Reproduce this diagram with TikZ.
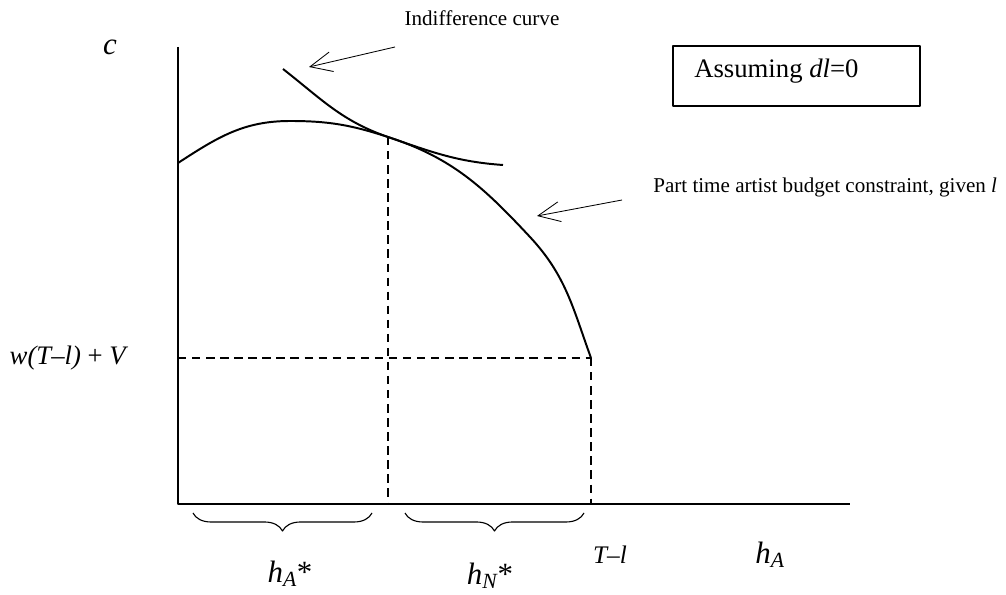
\documentclass[tikz,border=0pt]{standalone}
\usepackage{fontspec}
\setmainfont{Liberation Serif}
\usetikzlibrary{arrows.meta,decorations.pathreplacing}
\tikzset{
  econbase/.style={line cap=butt, line join=round},
  econaxis/.style={draw=black,line width=1.4pt},
  econcurve/.style={draw=black,line width=1.4pt},
  econguide/.style={draw=black,line width=1.2pt,dash pattern=on 6pt off 4pt},
  econpoint/.style={draw=black,line width=.6pt,-{Straight Barb[length=5.5mm,width=5mm]}},
  econbrace/.style={draw=black,line width=.8pt,decorate,decoration={brace,mirror,amplitude=4.5mm}},
  econbox/.style={draw=black,line width=1pt,minimum width=6.175cm,minimum height=1.5cm},
  econnote/.style={font=\fontsize{15}{18}\selectfont,inner sep=0pt},
  econlabel/.style={font=\fontsize{19}{22}\selectfont,inner sep=0pt},
  econbig/.style={font=\fontsize{22}{26}\selectfont\itshape,inner sep=0pt}
}

\begin{document}
\begin{tikzpicture}[econbase]
\useasboundingbox (-4.45,-2.275) rectangle (20.7,12.6);
\coordinate (origin) at (0,0);
\coordinate (ctop) at (0,11.425);
\coordinate (hend) at (16.8,0);
\coordinate (budstart) at (0,8.525);
\coordinate (budpeak) at (2.8,9.575);
\coordinate (tangent) at (5.25,9.175);
\coordinate (budbend) at (8.8,6.675);
\coordinate (budend) at (10.325,3.65);
\coordinate (indstart) at (2.625,10.875);
\coordinate (indend) at (8.125,8.475);
\coordinate (tangfoot) at (5.25,0);
\coordinate (endfoot) at (10.325,0);
\coordinate (endleft) at (0,3.65);
\draw[econaxis] (ctop)--(origin)--(hend);
\draw[econcurve] (budstart) to[out=33,in=180] (budpeak) to[out=0,in=162] (tangent)
  to[out=-18,in=133] (budbend) to[out=-47,in=110] (budend);
\draw[econcurve] (indstart) to[out=-38,in=161] (tangent) to[out=-19,in=176] (indend);
\draw[econguide] (tangent)--(tangfoot);
\draw[econguide] (budend)--(endfoot);
\draw[econguide] (endleft)--(budend);
\node[econnote] (indlbl) at (7.6,12.15) {Indifference curve};
\coordinate (indtail) at (5.425,11.425);
\coordinate (indtip) at (3.275,10.925);
\draw[econpoint] (indtail)--(indtip);
\node[econnote,anchor=west] (budlbl) at (11.875,7.925) {Part time artist budget constraint, given \textit{l}};
\coordinate (budtail) at (11.1,7.6);
\coordinate (budtip) at (8.975,7.2);
\draw[econpoint] (budtail)--(budtip);
\node[econbox] (dlbox) at (15.4625,10.7) {};
\node[econlabel,anchor=west] (dltext) at (12.9,10.825) {Assuming \textit{dl}=0};
\node[econbig] (clbl) at (-1.7,11.425) {c};
\node[econlabel] (wlbl) at (-2.725,3.65) {\textit{w(T--l)} + \textit{V}};
\coordinate (bracea1) at (0.375,-0.225);
\coordinate (bracea2) at (4.85,-0.225);
\coordinate (braceb1) at (5.675,-0.225);
\coordinate (braceb2) at (10.15,-0.225);
\draw[econbrace] (bracea1)--(bracea2);
\draw[econbrace] (braceb1)--(braceb2);
\node[econbig] (halbl) at (2.8,-1.75) {h\textsubscript{A}\textup{*}};
\node[econbig] (hnlbl) at (7.8,-1.8) {h\textsubscript{N}\textup{*}};
\node[econlabel,font=\fontsize{18}{22}\selectfont\itshape] (tllbl) at (10.8,-1.275) {T--l};
\node[econbig] (hlbl) at (14.8,-1.275) {h\textsubscript{A}};
\end{tikzpicture}
\end{document}
